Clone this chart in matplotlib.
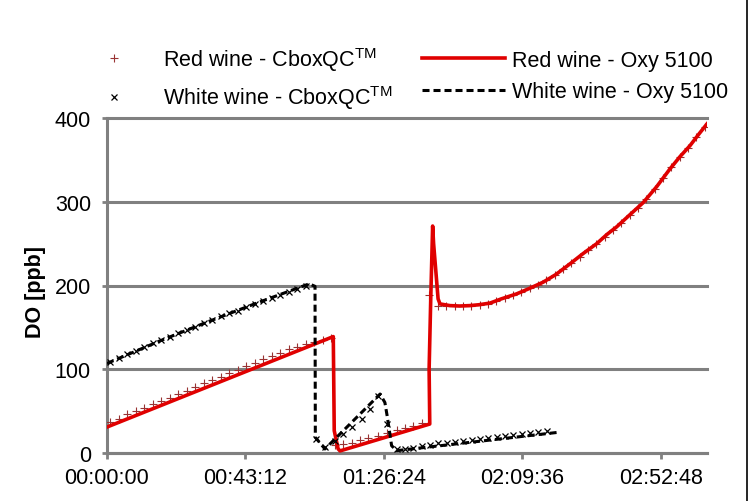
import numpy as np
import matplotlib.pyplot as plt
from matplotlib.ticker import FuncFormatter
from matplotlib.lines import Line2D

plt.rcParams['font.family'] = ['Liberation Sans', 'DejaVu Sans']
plt.rcParams['mathtext.fontset'] = 'custom'
plt.rcParams['mathtext.rm'] = 'Liberation Sans'

# time in minutes, DO in ppb
red_cbox_t = [1.0, 3.6, 6.3, 8.9, 11.6, 14.3, 16.9, 19.6, 22.2, 24.9, 27.5, 30.2, 32.8, 35.5,
              38.1, 40.8, 43.4, 46.1, 48.7, 51.4, 54.0, 56.7, 59.3, 62.0, 64.6, 67.3, 69.9,
              71.1, 73.7, 76.4, 78.9, 81.5, 84.7, 87.3, 90.4, 93.0, 95.6, 98.2,
              100.5, 103.3, 105.9, 108.5, 111.1, 113.7, 116.3, 118.9, 121.5, 124.1, 126.7,
              129.3, 131.9, 134.5, 137.1, 139.7, 142.3, 144.9, 147.5, 150.1, 152.7, 155.3,
              157.9, 160.5, 163.1, 165.7, 168.3, 170.9, 173.5, 176.1, 178.7, 181.3, 183.9, 186.5]
red_cbox_do = [37, 41, 46, 50, 54, 58, 62, 66, 70, 74, 79, 83, 87, 91,
               95, 99, 104, 108, 112, 116, 120, 124, 127, 130, 133, 135, 137,
               10, 11, 12.5, 15.5, 17.5, 20, 24, 27.5, 29.5, 32.5, 35.5,
               189, 176, 175.5, 175.5, 175.5, 176, 177, 178.5, 181, 184.5, 188.5,
               192, 196.5, 201, 206, 212, 219.5, 227, 234.5, 242, 250, 258,
               266, 274.5, 284, 293, 303, 315, 328, 341, 354, 364.5, 377, 389.5]

white_cbox_t = [1.0, 3.6, 6.3, 8.9, 11.6, 14.3, 16.9, 19.6, 22.2, 24.9, 27.5, 30.2, 32.8, 35.5,
                38.1, 40.8, 43.4, 46.1, 48.7, 51.4, 54.0, 56.7, 59.3, 62.0,
                65.3, 68.0, 71.1, 73.7, 76.3, 79.5, 82.1, 84.7, 87.5, 90.4,
                93.0, 95.6, 98.2, 100.8, 103.4, 106.0, 108.6, 111.2, 113.8, 116.4, 119.0,
                121.6, 124.2, 126.8, 129.4, 132.0, 134.6, 137.2]
white_cbox_do = [109, 114, 118, 122, 127, 131, 135, 139, 143, 147, 151, 155, 159, 163,
                 167, 170, 174, 178, 182, 185, 189, 192, 196, 199,
                 17, 7, 14.7, 22.7, 30.6, 40.6, 52.5, 68.4, 34.6, 4.8,
                 5, 6.5, 8, 10, 11.5, 12.5, 13.5, 14.5, 16, 17, 18,
                 19, 20, 21, 22.5, 24, 25, 26]

red_oxy_t = [0, 70.6, 70.9, 72.1, 72.7, 100.7, 100.5, 101.0, 101.6, 101.9, 103.3, 103.9, 107,
             110, 113.2, 116, 119.5, 123, 127.8, 131.5, 136.1, 140, 144.5, 148.5, 152.8, 156,
             159, 163, 167.3, 171.5, 175.6, 178.8, 181.9, 184.5, 187.2]
red_oxy_do = [31, 139, 26.6, 5, 2.5, 34.6, 100, 183, 271, 250, 184, 178, 176,
              175.5, 176, 177, 179, 184, 190, 196, 204, 213, 226, 238, 250, 261,
              270, 284, 299, 318, 339, 354, 367, 380, 393]

white_oxy_t = [0, 16.6, 31, 46.7, 63.1, 64.9, 65.0, 68.0, 85.2, 86.7, 87.4, 88.1, 88.8, 90.4, 140.8]
white_oxy_do = [107, 134, 156, 179, 202, 199, 18.7, 4.8, 70.4, 60.3, 44.5, 26.6, 8.7, 2.8, 24.7]

x_ticks = [0, 43.2, 86.4, 129.6, 172.8]
y_ticks = [0, 100, 200, 300, 400]
x_max = 187.2


def hms(m, pos=None):
    s = int(round(m * 60))
    return '%02d:%02d:%02d' % (s // 3600, (s // 60) % 60, s % 60)


fig = plt.figure(figsize=(7.48, 5.02), dpi=100)
ax = fig.add_axes([107 / 748, 1 - 454 / 502, 600 / 748, 335 / 502])

gray = '#808080'
fs = 15.5

p1, = ax.plot(red_cbox_t, red_cbox_do, ls='none', marker='+', ms=6, mew=0.8,
              color='#993333', label=r'Red wine - CboxQC$^{\rm TM}$', zorder=3)
p2, = ax.plot(red_oxy_t, red_oxy_do, color='#E00000', lw=2.6,
              label='Red wine - Oxy 5100', zorder=4)
p3, = ax.plot(white_cbox_t, white_cbox_do, ls='none', marker='x', ms=5, mew=0.9,
              color='black', label=r'White wine - CboxQC$^{\rm TM}$', zorder=5)
p4, = ax.plot(white_oxy_t, white_oxy_do, color='black', lw=2.2, dashes=(2.3, 1.3),
              label='White wine - Oxy 5100', zorder=6)

ax.set_xlim(0, x_max)
ax.set_ylim(0, 400)
ax.set_xticks(x_ticks)
ax.xaxis.set_major_formatter(FuncFormatter(hms))
ax.set_yticks(y_ticks)

ax.grid(axis='y', color=gray, lw=2.2)
for gl in ax.get_ygridlines():
    gl.set_clip_on(False)
ax.set_axisbelow(True)

for side in ['top', 'right']:
    ax.spines[side].set_visible(False)
for side in ['left', 'bottom']:
    ax.spines[side].set_color(gray)
    ax.spines[side].set_linewidth(2.2)

ax.tick_params(axis='both', colors=gray, width=2, labelsize=fs, labelcolor='black')
ax.tick_params(axis='y', length=3.6, pad=8)
ax.tick_params(axis='x', length=4.3, pad=6)

ax.set_ylabel('DO [ppb]', fontsize=fs, fontweight='bold')
ax.yaxis.set_label_coords(-0.102, 0.485)

leg = ax.legend(handles=[p1, p3, p2, p4], ncol=2, frameon=False, fontsize=fs,
                loc='center left', bbox_to_anchor=(73 / 748, 1 - 79 / 502),
                bbox_transform=fig.transFigure, borderpad=0, borderaxespad=0,
                handlelength=3.85, handletextpad=0.33, columnspacing=1.4,
                labelspacing=0.5)

fig.add_artist(Line2D([0.998, 0.998], [0, 1], transform=fig.transFigure,
                      color='black', lw=1.2))

fig.savefig('out.png', dpi=100)
